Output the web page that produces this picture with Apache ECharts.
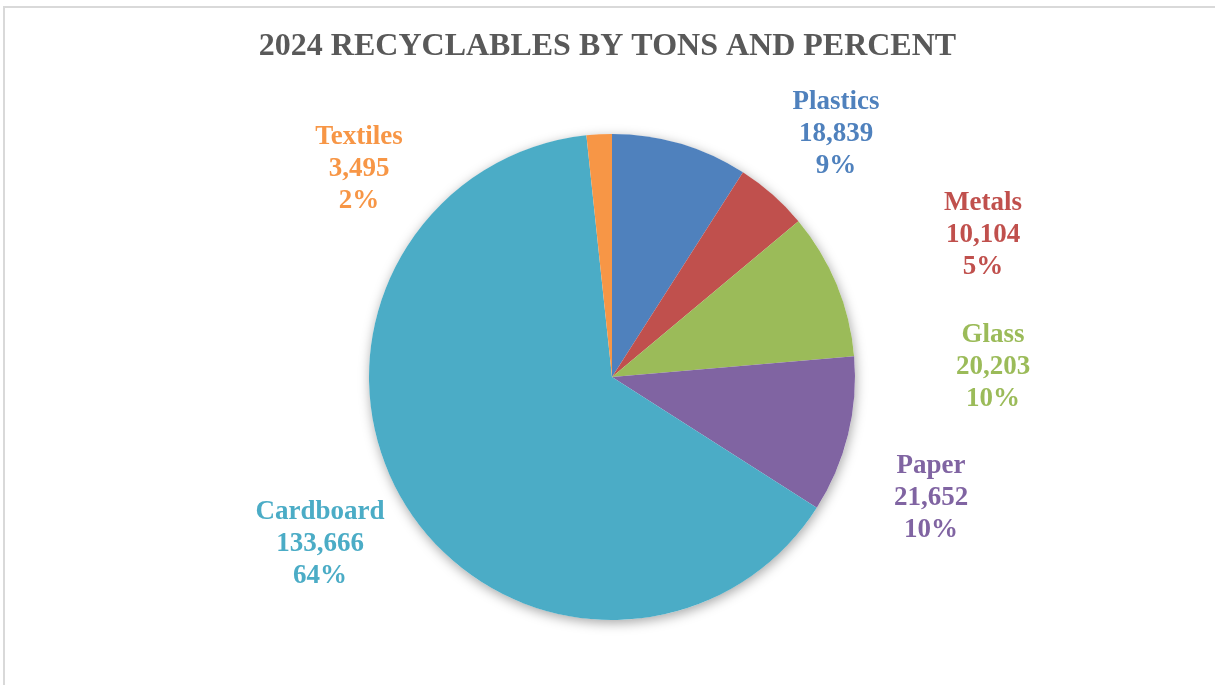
<!DOCTYPE html>
<html>
<head>
<meta charset="utf-8">
<title>2024 Recyclables by Tons and Percent</title>
<script src="https://cdn.jsdelivr.net/npm/echarts@6/dist/echarts.min.js"></script>
<style>
  html, body { margin: 0; padding: 0; background: #ffffff; }
  #chart { width: 1215px; height: 685px; }
  #frame {
    position: absolute; left: 3px; top: 6px; right: -10px; bottom: -10px;
    border-left: 2px solid #d9d9d9; border-top: 2px solid #d9d9d9;
    pointer-events: none;
  }
</style>
</head>
<body>
<div id="chart"></div>
<div id="frame"></div>
<script>
// Material categories, clockwise from 12 o'clock
const categories = ['Plastics', 'Metals', 'Glass', 'Paper', 'Cardboard', 'Textiles'];
// Tons collected in 2024
const tons = [18839, 10104, 20203, 21652, 133666, 3495];
// Slice colours
const colors = ['#4F81BD', '#C0504D', '#9BBB59', '#8064A2', '#4BACC6', '#F79646'];
// Label block offsets from the pie centre (px)
const labelOffsets = [[224, -243], [371, -142], [381, -10], [319, 121], [-292, 167], [-253, -208]];

const CX = 612, CY = 377, R = 243;
const FONT = '"Liberation Serif", "Times New Roman", serif';

const chart = echarts.init(document.getElementById('chart'), null, { renderer: 'canvas' });

const total = tons.reduce((a, b) => a + b, 0);

chart.setOption({
  backgroundColor: '#ffffff',
  animation: false,
  title: {
    text: '2024 RECYCLABLES BY TONS AND PERCENT',
    left: 'center',
    top: 26,
    textStyle: { fontFamily: FONT, fontWeight: 'bold', fontSize: 32, color: '#595959' }
  },
  series: [
    {
      // soft drop shadow under the whole pie
      type: 'pie',
      silent: true,
      center: [CX, CY],
      radius: R,
      z: 1,
      label: { show: false },
      labelLine: { show: false },
      data: [{ value: total, name: 'all' }],
      itemStyle: {
        color: '#ffffff',
        shadowBlur: 12,
        shadowColor: 'rgba(0,0,0,0.35)',
        shadowOffsetX: 1,
        shadowOffsetY: 3
      }
    },
    {
      type: 'pie',
      center: [CX, CY],
      radius: R,
      z: 2,
      startAngle: 90,
      clockwise: true,
      avoidLabelOverlap: false,
      percentPrecision: 0,
      data: categories.map((name, i) => ({
        name: name,
        value: tons[i],
        itemStyle: { color: colors[i] },
        label: { color: colors[i] }
      })),
      itemStyle: { borderWidth: 0 },
      label: {
        show: true,
        position: 'outside',
        fontFamily: FONT,
        fontWeight: 'bold',
        fontSize: 27,
        lineHeight: 32,
        align: 'center',
        formatter: p => p.name + '\n' + p.value.toLocaleString('en-US') + '\n' + p.percent + '%'
      },
      labelLine: { show: false },
      labelLayout: function (params) {
        const o = labelOffsets[params.dataIndex];
        return { x: CX + o[0], y: CY + o[1], align: 'center', verticalAlign: 'middle' };
      }
    }
  ]
});
</script>
</body>
</html>
